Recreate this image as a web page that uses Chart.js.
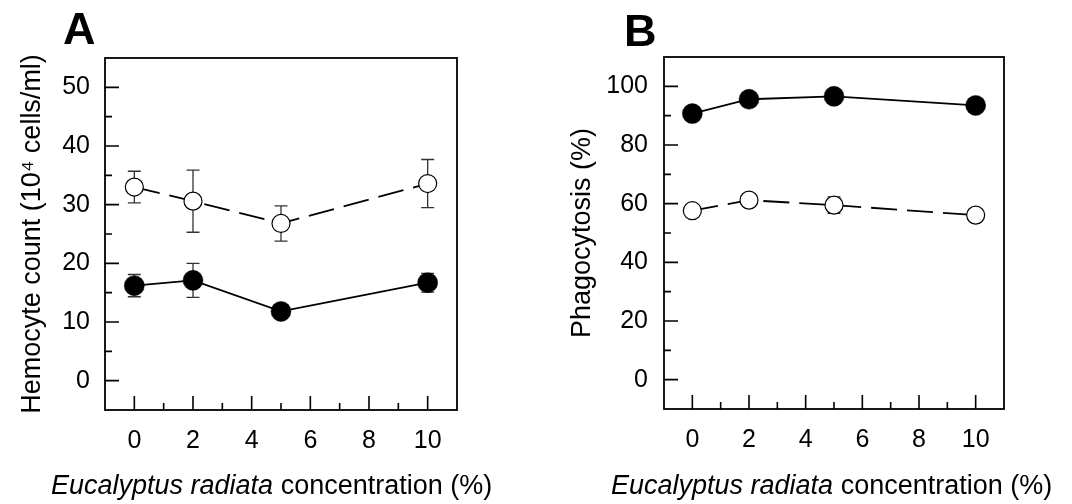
<!DOCTYPE html>
<html>
<head>
<meta charset="utf-8">
<script src="https://cdn.jsdelivr.net/npm/chart.js@4/dist/chart.umd.min.js"></script>
<style>
    body {
        margin: 0;
        background: #fff;
        width: 1072px;
        height: 504px;
        position: relative;
        overflow: hidden;
        font-family: Arial, 'Liberation Sans', sans-serif;
        color: #000;
    }
    .panel { position: absolute; top: 0; width: 536px; height: 504px; }
    .tag { position: absolute; font-weight: bold; font-size: 45px; line-height: 45px; }
    .xtitle { position: absolute; font-size: 27px; line-height: 27px; white-space: nowrap; }
</style>
</head>
<body>
<div class="panel" style="left:0"><canvas id="hemo-graph" width="536" height="504"></canvas></div>
<div class="panel" style="left:536px"><canvas id="phago-graph" width="536" height="504"></canvas></div>
<div class="tag" style="left:63px; top:6px">A</div>
<div class="tag" style="left:624px; top:8px">B</div>
<div class="xtitle" style="left:51px; top:472px"><i>Eucalyptus radiata</i> concentration (%)</div>
<div class="xtitle" style="left:611px; top:472px"><i>Eucalyptus radiata</i> concentration (%)</div>

<script>
// concentrations tested (%)
var concentration = [0, 2, 5, 10];
var xTicks = [0, 2, 4, 6, 8, 10];
var xMinorTicks = [1, 3, 5, 7, 9];

// hemocyte count, 10^4 cells/ml
var hemoOpen = [33.0, 30.6, 26.8, 33.6];
var hemoOpenErr = [2.7, 5.3, 3.0, 4.1];
var hemoFilled = [16.2, 17.1, 11.8, 16.7];
var hemoFilledErr = [1.9, 2.9, 0.8, 1.6];
var hemoTicks = [0, 10, 20, 30, 40, 50];
var hemoMinorTicks = [5, 15, 25, 35, 45];

// phagocytosis, %
var phagoOpen = [57.6, 61.2, 59.5, 56.1];
var phagoOpenErr = [1.0, 1.0, 2.8, 1.0];
var phagoFilled = [90.7, 95.6, 96.6, 93.5];
var phagoFilledErr = [1.2, 1.5, 1.0, 1.2];
var phagoTicks = [0, 20, 40, 60, 80, 100];
var phagoMinorTicks = [10, 30, 50, 70, 90];

var FONT = 'Arial, "Liberation Sans", sans-serif';

function points(ys) {
    return concentration.map(function(c, i) { return { x: c, y: ys[i] }; });
}

// vertical error bars with caps, under the markers
var errorBars = {
    id: 'errorBars',
    beforeDatasetsDraw: function(chart) {
        var ctx = chart.ctx;
        var xs = chart.scales.x, ys = chart.scales.y;
        ctx.save();
        ctx.strokeStyle = '#333';
        ctx.lineWidth = 1.3;
        chart.data.datasets.forEach(function(ds) {
            if (!ds.errorBars) return;
            ds.data.forEach(function(p, i) {
                var e = ds.errorBars[i];
                var px = xs.getPixelForValue(p.x);
                var top = ys.getPixelForValue(p.y + e);
                var bot = ys.getPixelForValue(p.y - e);
                ctx.beginPath();
                ctx.moveTo(px, top); ctx.lineTo(px, bot);
                ctx.moveTo(px - 6.5, top); ctx.lineTo(px + 6.5, top);
                ctx.moveTo(px - 6.5, bot); ctx.lineTo(px + 6.5, bot);
                ctx.stroke();
            });
        });
        ctx.restore();
    }
};

// closed frame with tick marks pointing into the plot
var frameTicks = {
    id: 'frameTicks',
    afterDraw: function(chart, args, opts) {
        var ctx = chart.ctx, a = chart.chartArea;
        var xs = chart.scales.x, ys = chart.scales.y;
        ctx.save();
        ctx.strokeStyle = '#000';
        ctx.lineWidth = 1.6;
        ctx.beginPath();
        xs.ticks.forEach(function(t) {
            var px = xs.getPixelForValue(t.value);
            ctx.moveTo(px, a.bottom); ctx.lineTo(px, a.bottom - 14);
        });
        opts.xMinor.forEach(function(v) {
            var px = xs.getPixelForValue(v);
            ctx.moveTo(px, a.bottom); ctx.lineTo(px, a.bottom - 7);
        });
        ys.ticks.forEach(function(t) {
            var py = ys.getPixelForValue(t.value);
            ctx.moveTo(a.left, py); ctx.lineTo(a.left + 14, py);
        });
        opts.yMinor.forEach(function(v) {
            var py = ys.getPixelForValue(v);
            ctx.moveTo(a.left, py); ctx.lineTo(a.left + 7, py);
        });
        ctx.stroke();
        ctx.lineWidth = 1.8;
        ctx.strokeRect(a.left, a.top, a.right - a.left, a.bottom - a.top);
        ctx.restore();
    }
};

function makePanel(id, box, open, openErr, filled, filledErr, yMin, yMax, yTicks, yMinor, yTitle, titlePad, tickPad) {
    var ctx = document.getElementById(id).getContext('2d');
    return new Chart(ctx, {
        type: 'scatter',
        data: {
            datasets: [{
                data: points(filled),
                errorBars: filledErr,
                showLine: true,
                borderColor: '#000',
                borderWidth: 1.8,
                pointRadius: 10,
                pointBackgroundColor: '#000',
                pointBorderColor: '#000',
                pointBorderWidth: 0.5
            }, {
                data: points(open),
                errorBars: openErr,
                showLine: true,
                borderColor: '#000',
                borderWidth: 1.8,
                borderDash: [26, 10],
                pointRadius: 9,
                pointBackgroundColor: '#fff',
                pointBorderColor: '#000',
                pointBorderWidth: 1.2
            }]
        },
        options: {
            responsive: false,
            animation: false,
            layout: { padding: { left: 0, top: box.top, right: 536 - box.right, bottom: 0 } },
            plugins: {
                legend: { display: false },
                tooltip: { enabled: false },
                frameTicks: { xMinor: xMinorTicks, yMinor: yMinor }
            },
            scales: {
                x: {
                    type: 'linear',
                    min: -1,
                    max: 11,
                    grid: { display: false, drawTicks: false },
                    border: { display: false },
                    afterBuildTicks: function(s) { s.ticks = xTicks.map(function(v) { return { value: v }; }); },
                    afterFit: function(s) { s.height = 504 - box.bottom; },
                    ticks: { color: '#000', padding: 16, font: { family: FONT, size: 25 } }
                },
                y: {
                    min: yMin,
                    max: yMax,
                    grid: { display: false, drawTicks: false },
                    border: { display: false },
                    afterBuildTicks: function(s) { s.ticks = yTicks.map(function(v) { return { value: v }; }); },
                    afterFit: function(s) { s.width = box.left; },
                    ticks: { color: '#000', padding: tickPad, font: { family: FONT, size: 25 } },
                    title: {
                        display: true,
                        text: yTitle,
                        color: '#000',
                        padding: { top: titlePad, bottom: 0 },
                        font: { family: FONT, size: 27 }
                    }
                }
            }
        },
        plugins: [errorBars, frameTicks]
    });
}

makePanel('hemo-graph', { left: 105, top: 58, right: 457, bottom: 410 },
    hemoOpen, hemoOpenErr, hemoFilled, hemoFilledErr,
    -5, 55, hemoTicks, hemoMinorTicks, 'Hemocyte count (10\u2074 cells/ml)', 16, 15);

makePanel('phago-graph', { left: 128, top: 57, right: 468, bottom: 409 },
    phagoOpen, phagoOpenErr, phagoFilled, phagoFilledErr,
    -10, 110, phagoTicks, phagoMinorTicks, 'Phagocytosis (%)', 30, 16);
</script>
</body>
</html>
